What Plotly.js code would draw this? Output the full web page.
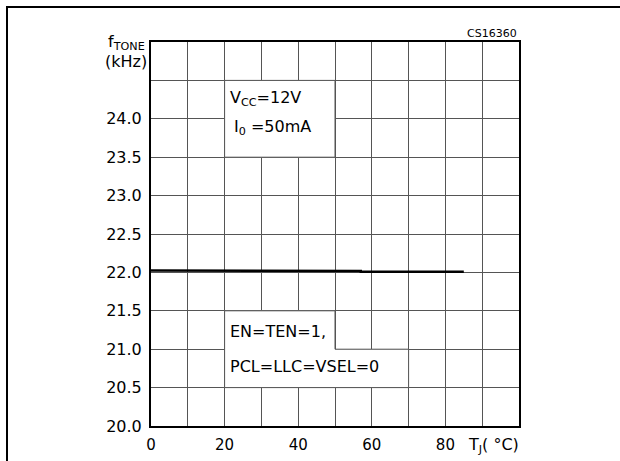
<!DOCTYPE html>
<html>
<head>
<meta charset="utf-8">
<script src="https://cdn.plot.ly/plotly-3.0.1.min.js"></script>
<style>
  html, body { margin: 0; padding: 0; background: #fff; }
  #wrap { position: relative; width: 620px; height: 461px; overflow: hidden; }
  #frame { position: absolute; top: 6px; left: 6px; width: 640px; height: 480px;
           border-top: 2.5px solid #000; border-left: 2.5px solid #000; pointer-events: none; z-index: 5; }
  #chart { position: absolute; top: 0; left: 0; width: 620px; height: 461px; }
</style>
</head>
<body>
<div id="wrap">
  <div id="chart"></div>
  <div id="frame"></div>
</div>
<script>
// Data
const tempC = [0, 28.5, 28.5, 57, 57, 85];
const fToneKHz = [22.025, 22.025, 22.018, 22.018, 22.008, 22.008];

const xTickVals = [0, 10, 20, 30, 40, 50, 60, 70, 80, 90, 100];
const xTickText = ['0', '', '20', '', '40', '', '60', '', '80', '', ''];
const yTickVals = [20.0, 20.5, 21.0, 21.5, 22.0, 22.5, 23.0, 23.5, 24.0, 24.5, 25.0];
const yTickText = ['20.0', '20.5', '21.0', '21.5', '22.0', '22.5', '23.0', '23.5', '24.0', '', ''];

const gridCol = '#555';
const font = 'DejaVu Sans, sans-serif';

const trace = {
  x: tempC, y: fToneKHz, type: 'scatter', mode: 'lines',
  line: { color: '#000', width: 2.5 }, hoverinfo: 'skip', showlegend: false
};

const layout = {
  width: 620, height: 461,
  margin: { l: 151, r: 101, t: 42, b: 35, pad: 0 },
  paper_bgcolor: '#fff', plot_bgcolor: '#fff',
  font: { family: font, size: 16, color: '#000' },
  xaxis: {
    range: [0, 100], tickmode: 'array', tickvals: xTickVals, ticktext: xTickText,
    showgrid: true, gridcolor: gridCol, gridwidth: 1, zeroline: false,
    showline: true, linecolor: '#000', linewidth: 2, mirror: true, ticks: '',
    tickfont: { family: font, size: 15 }, ticklabelstandoff: 4, fixedrange: true
  },
  yaxis: {
    range: [20, 25], tickmode: 'array', tickvals: yTickVals, ticktext: yTickText,
    showgrid: true, gridcolor: gridCol, gridwidth: 1, zeroline: false,
    showline: true, linecolor: '#000', linewidth: 2, mirror: true, ticks: '',
    tickfont: { family: font, size: 16 }, ticklabelstandoff: 4, fixedrange: true
  },
  shapes: [
    { type: 'rect', xref: 'x', yref: 'y', x0: 20, x1: 50, y0: 23.5, y1: 24.5,
      fillcolor: '#fff', line: { color: gridCol, width: 1 }, layer: 'above' },
    { type: 'path', xref: 'x', yref: 'y',
      path: 'M 20 21.5 L 50 21.5 L 50 21.0 L 70 21.0 L 70 20.5 L 20 20.5 Z',
      fillcolor: '#fff', line: { color: gridCol, width: 1 }, layer: 'above' }
  ],
  annotations: [
    { xref: 'paper', yref: 'paper', x: -0.012, y: 1.0, xanchor: 'right', yanchor: 'middle',
      text: 'f<sub>TONE</sub>', showarrow: false, font: { family: font, size: 16 } },
    { xref: 'paper', yref: 'paper', x: -0.005, y: 0.95, xanchor: 'right', yanchor: 'middle',
      text: '(kHz)', showarrow: false, font: { family: font, size: 16 } },
    { xref: 'paper', yref: 'paper', x: 1.0, y: 1.0, xanchor: 'right', yanchor: 'bottom',
      text: 'CS16360', showarrow: false, font: { family: font, size: 11 } },
    { xref: 'paper', yref: 'paper', x: 0.855, y: -0.05, xanchor: 'left', yanchor: 'middle',
      text: 'T<sub>J</sub>( °C)', showarrow: false, font: { family: font, size: 16 } },
    { xref: 'x', yref: 'y', x: 21.0, y: 24.26, xanchor: 'left', yanchor: 'middle',
      text: 'V<sub>CC</sub>=12V', showarrow: false, font: { family: font, size: 16 } },
    { xref: 'x', yref: 'y', x: 22.0, y: 23.89, xanchor: 'left', yanchor: 'middle',
      text: 'I<sub>0</sub> =50mA', showarrow: false, font: { family: font, size: 16 } },
    { xref: 'x', yref: 'y', x: 21.0, y: 21.23, xanchor: 'left', yanchor: 'middle',
      text: 'EN=TEN=1,', showarrow: false, font: { family: font, size: 16 } },
    { xref: 'x', yref: 'y', x: 21.0, y: 20.78, xanchor: 'left', yanchor: 'middle',
      text: 'PCL=LLC=VSEL=0', showarrow: false, font: { family: font, size: 16 } }
  ]
};

Plotly.newPlot('chart', [trace], layout, { staticPlot: true, displayModeBar: false });
</script>
</body>
</html>
